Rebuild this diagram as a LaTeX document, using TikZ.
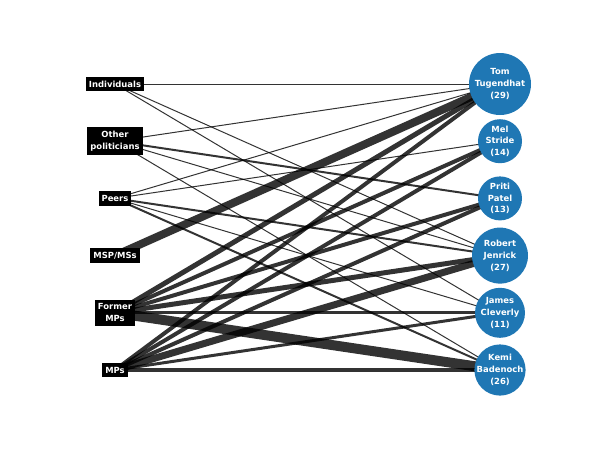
\documentclass[tikz,border=0pt]{standalone}
\usepackage{fontspec}
\setsansfont{DejaVu Sans}
\usetikzlibrary{backgrounds}
\definecolor{candblue}{HTML}{1F77B4}

\begin{document}
\begin{tikzpicture}[node distance=1.43cm,
  group node/.style={rectangle,fill=black,text=white,inner xsep=2.2pt,inner ysep=3pt,
    align=center,font=\sffamily\bfseries\fontsize{6}{8.4}\selectfont},
  cand node/.style={circle,fill=candblue,inner sep=0pt,minimum size=#1},
  cand text/.style={text=white,align=center,inner sep=0pt,
    font=\sffamily\bfseries\fontsize{6}{8.4}\selectfont},
  link/.style={draw=black,draw opacity=0.8}]

  \useasboundingbox (-2.875,2.1) rectangle (12.125,-9.15);

  \node[group node] (ind) {Individuals};
  \node[group node] (oth) [below of=ind] {Other\\politicians};
  \node[group node] (peer) [below of=oth] {Peers};
  \node[group node] (msp) [below of=peer] {MSP/MSs};
  \node[group node] (fmp) [below of=msp] {Former\\MPs};
  \node[group node] (mp) [below of=fmp] {MPs};

  \node[cand node=1.55cm,node distance=9.625cm,right of=ind,
    label={[cand text]center:Tom\\Tugendhat\\(29)}] (tom) {};
  \node[cand node=1.1cm,label={[cand text]center:Mel\\Stride\\(14)}] (mel) [below of=tom] {};
  \node[cand node=1.1cm,label={[cand text]center:Priti\\Patel\\(13)}] (pri) [below of=mel] {};
  \node[cand node=1.4cm,label={[cand text]center:Robert\\Jenrick\\(27)}] (rob) [below of=pri] {};
  \node[cand node=1.25cm,label={[cand text]center:James\\Cleverly\\(11)}] (jam) [below of=rob] {};
  \node[cand node=1.28cm,label={[cand text]center:Kemi\\Badenoch\\(26)}] (kem) [below of=jam] {};

  \begin{scope}[on background layer]
    \foreach \from/\to/\w in {ind/tom/1, ind/rob/1, ind/jam/1,
        oth/tom/1, oth/pri/2, oth/rob/1, oth/kem/1,
        peer/tom/1, peer/mel/1, peer/rob/2, peer/jam/1, peer/kem/2,
        msp/tom/8,
        fmp/tom/5, fmp/mel/4, fmp/pri/4, fmp/rob/5, fmp/jam/3, fmp/kem/10,
        mp/tom/4, mp/mel/4, mp/pri/4, mp/rob/7, mp/jam/3, mp/kem/4}
      \draw[link,line width=\w*0.71pt] (\from.center) -- (\to.center);
  \end{scope}
\end{tikzpicture}
\end{document}
